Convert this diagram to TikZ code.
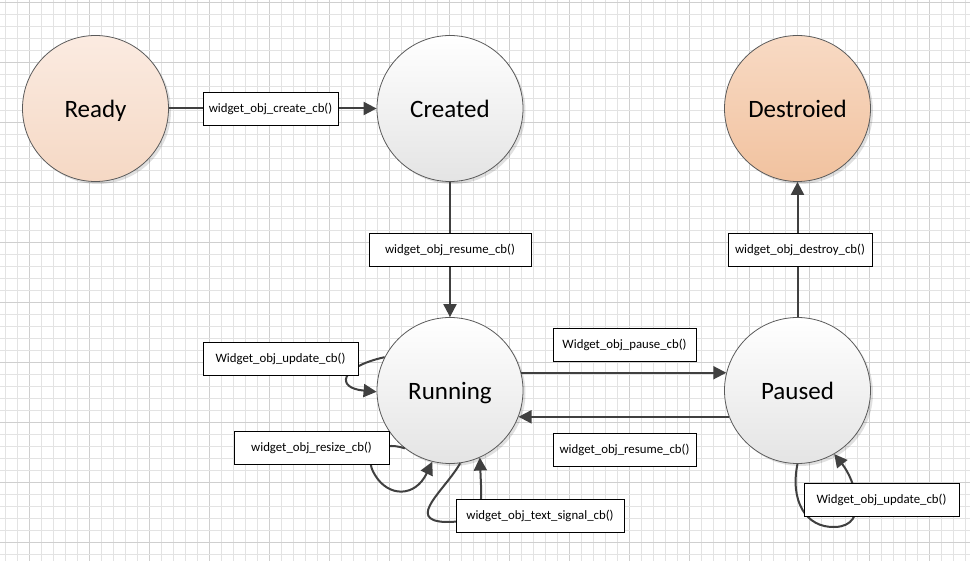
\documentclass[tikz,border=0pt]{standalone}
\usepackage{fontspec}
\setmainfont{Carlito}
\usetikzlibrary{arrows.meta,shadows}
\definecolor{gridc}{HTML}{E3E3E3}
\definecolor{gridmaj}{HTML}{CFCFCF}
\definecolor{linec}{HTML}{404040}
\definecolor{rimc}{HTML}{5A5A5A}
\definecolor{readytop}{HTML}{FBEBE1}
\definecolor{readybot}{HTML}{F5D8C4}
\definecolor{desttop}{HTML}{F8DAC4}
\definecolor{destbot}{HTML}{F1C29F}
\definecolor{graybot}{HTML}{E4E4E4}
\tikzset{
  gridline/.style={draw=gridc, line width=0.8pt},
  gridmajor/.style={draw=gridmaj, line width=0.8pt},
  state/.style={circle, draw=rimc, line width=0.8pt, minimum size=146pt, inner sep=0pt,
    font=\fontsize{25}{30}\selectfont, text depth=0pt,
    drop shadow={shadow xshift=2.5pt, shadow yshift=-2.5pt, fill=black, opacity=0.12}},
  graystate/.style={state, top color=white, bottom color=graybot},
  lbl/.style={draw=black, line width=0.7pt, fill=white, minimum height=33pt, inner sep=0pt,
    font=\fontsize{12.8}{15}\selectfont},
  arr/.style={draw=linec, line width=2pt, -{Triangle[length=13pt,width=13pt]}}
}
\begin{document}
\begin{tikzpicture}[x=1pt,y=-1pt]
\useasboundingbox (0,0) rectangle (970,561);
\fill[white] (0,0) rectangle (970,561);
\foreach \i in {0,...,80} {
  \pgfmathtruncatemacro\im{mod(\i,5)}
  \ifnum\im=2 \draw[gridmajor] ({5+12*\i},0) -- ({5+12*\i},561);
  \else \draw[gridline] ({5+12*\i},0) -- ({5+12*\i},561); \fi
}
\foreach \j in {0,...,46} {
  \pgfmathtruncatemacro\jm{mod(\j,5)}
  \ifnum\jm=0 \draw[gridmajor] (0,{2.5+12*\j}) -- (970,{2.5+12*\j});
  \else \draw[gridline] (0,{2.5+12*\j}) -- (970,{2.5+12*\j}); \fi
}

% states
\node[state, top color=readytop, bottom color=readybot] (ready) at (95.5,108.5) {Ready};
\node[graystate] (created) at (450,108.5) {Created};
\node[state, top color=desttop, bottom color=destbot] (destroyed) at (797.5,108.5) {Destroied};
\node[graystate] (running) at (450,390.5) {Running};
\node[graystate] (paused) at (797.5,390.5) {Paused};

% connectors
\draw[arr] (ready) -- (created);
\draw[arr] (created) -- (running);
\draw[arr] (paused) -- (destroyed);
\draw[arr] (running.14) -- (paused.166);
\draw[arr] (paused.201) -- (running.339);

% self loops on Running
\draw[arr] (running.153) .. controls (340,367) and (335,388) .. (running.181);
\draw[arr] (running.232) .. controls (380,440) and (362,455) .. (375,475)
  .. controls (388,497) and (415,498) .. (running.256);
\draw[arr] (running.278) .. controls (445,490) and (405,520) .. (445,522)
  .. controls (485,522) and (482,510) .. (running.294);
% self loop on Paused
\draw[arr] (paused.270) .. controls (790,500) and (805,528) .. (835,527)
  .. controls (870,526) and (855,480) .. (paused.300);

% labels
\node[lbl, minimum width=135pt] (lcreate) at (270.5,108.5) {widget\_obj\_create\_cb()};
\node[lbl, minimum width=162pt] (lresumev) at (450,249.5) {widget\_obj\_resume\_cb()};
\node[lbl, minimum width=144pt] (ldestroy) at (800,249.5) {widget\_obj\_destroy\_cb()};
\node[lbl, minimum width=143pt] (lpause) at (624.5,345) {Widget\_obj\_pause\_cb()};
\node[lbl, minimum width=143pt] (lresumeh) at (624.5,450) {widget\_obj\_resume\_cb()};
\node[lbl, minimum width=155pt] (lupdr) at (280.5,358.5) {Widget\_obj\_update\_cb()};
\node[lbl, minimum width=155pt] (lresize) at (311.5,447.5) {widget\_obj\_resize\_cb()};
\node[lbl, minimum width=168pt] (ltext) at (540,515.5) {widget\_obj\_text\_signal\_cb()};
\node[lbl, minimum width=155pt] (lupdp) at (881.5,499.5) {Widget\_obj\_update\_cb()};
\end{tikzpicture}
\end{document}
